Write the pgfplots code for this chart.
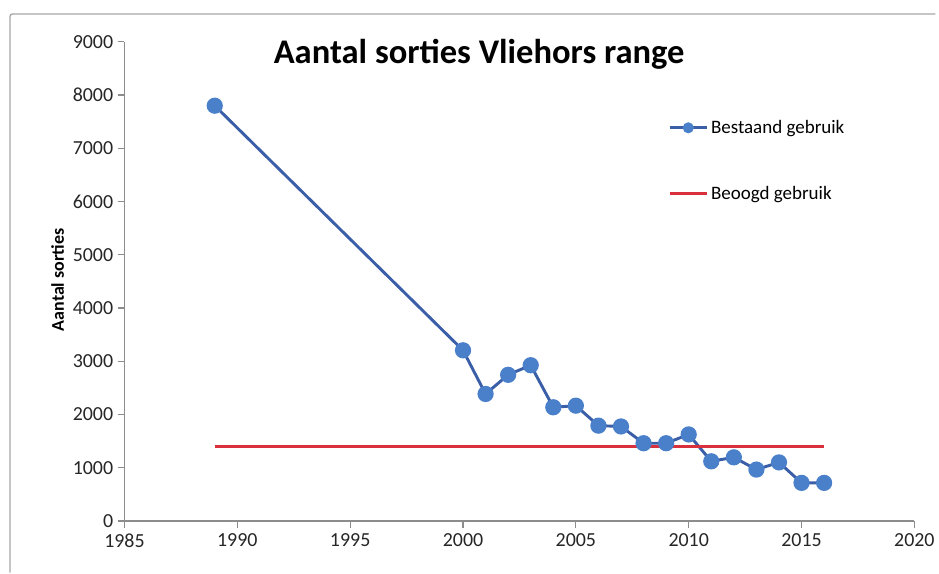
\documentclass[border=0pt]{standalone}
\usepackage{pgfplots}
\pgfplotsset{compat=1.18}
\usepackage{fontspec}
\setmainfont{Carlito}

\definecolor{lijnblauw}{HTML}{3A5EA8}
\definecolor{puntblauw}{HTML}{4A7FCA}
\definecolor{lijnrood}{HTML}{D8303C}
\definecolor{asgrijs}{HTML}{8C8C8C}

\begin{document}
\begin{tikzpicture}[x=1pt,y=1pt]
\begin{axis}[
    scale only axis,
    width=594.75pt, height=360.75pt,
    xmin=1985, xmax=2020, ymin=0, ymax=9000,
    xtick={1985,1990,...,2020},
    ytick={0,1000,...,9000},
    axis lines=left,
    axis line style={asgrijs, line width=0.9pt, -},
    tick style={asgrijs, line width=0.9pt},
    tick align=outside,
    major tick length=5pt,
    /pgf/number format/1000 sep={},
    /pgf/number format/assume math mode=true,
    ticklabel style={font=\fontsize{15}{17}\selectfont, text=black!85},
    xticklabel style={yshift=-1pt},
    ylabel={Aantal sorties},
    ylabel style={font=\fontsize{13.5}{15}\selectfont\bfseries,
        at={(rel axis cs:-0.0845,0.503)}, anchor=center},
    legend style={draw=none, fill=none, at={(rel axis cs:0.683,0.848)},
        anchor=north west, font=\fontsize{14.3}{16}\selectfont,
        row sep=34pt, legend cell align=left},
    legend image code/.code={
        \draw[#1, mark repeat=2, mark phase=2,
              mark options={scale=1.5, fill=puntblauw, draw=puntblauw}]
            plot coordinates {(0pt,0pt) (14pt,0pt) (28pt,0pt)};},
    clip=false,
]
% rand van de hele grafiek
\draw[gray!70, line width=1pt, rounded corners=2pt]
    (rel axis cs:1.0265,1.0582) -- (rel axis cs:-0.145,1.0582) -- (rel axis cs:-0.145,-0.1081);
\path[use as bounding box] (rel axis cs:-0.1576,1.0873) rectangle (rel axis cs:1.0265,-0.1081);

\addplot[lijnblauw, line width=2.2pt, mark=*,
    mark options={fill=puntblauw, draw=puntblauw, scale=2.5}]
coordinates {
    (1989,7800) (2000,3205) (2001,2385) (2002,2745) (2003,2925)
    (2004,2135) (2005,2165) (2006,1790) (2007,1775) (2008,1460)
    (2009,1460) (2010,1625) (2011,1120) (2012,1195) (2013,965)
    (2014,1100) (2015,715) (2016,715)
};
\addlegendentry{Bestaand gebruik}

\addplot[lijnrood, line width=2.2pt, mark=none]
coordinates {(1989,1395) (2016,1395)};
\addlegendentry{Beoogd gebruik}

\node[font=\fontsize{26}{30}\selectfont\bfseries, anchor=center]
    at (rel axis cs:0.449,0.973) {Aantal sorties Vliehors range};
\end{axis}
\end{tikzpicture}
\end{document}
